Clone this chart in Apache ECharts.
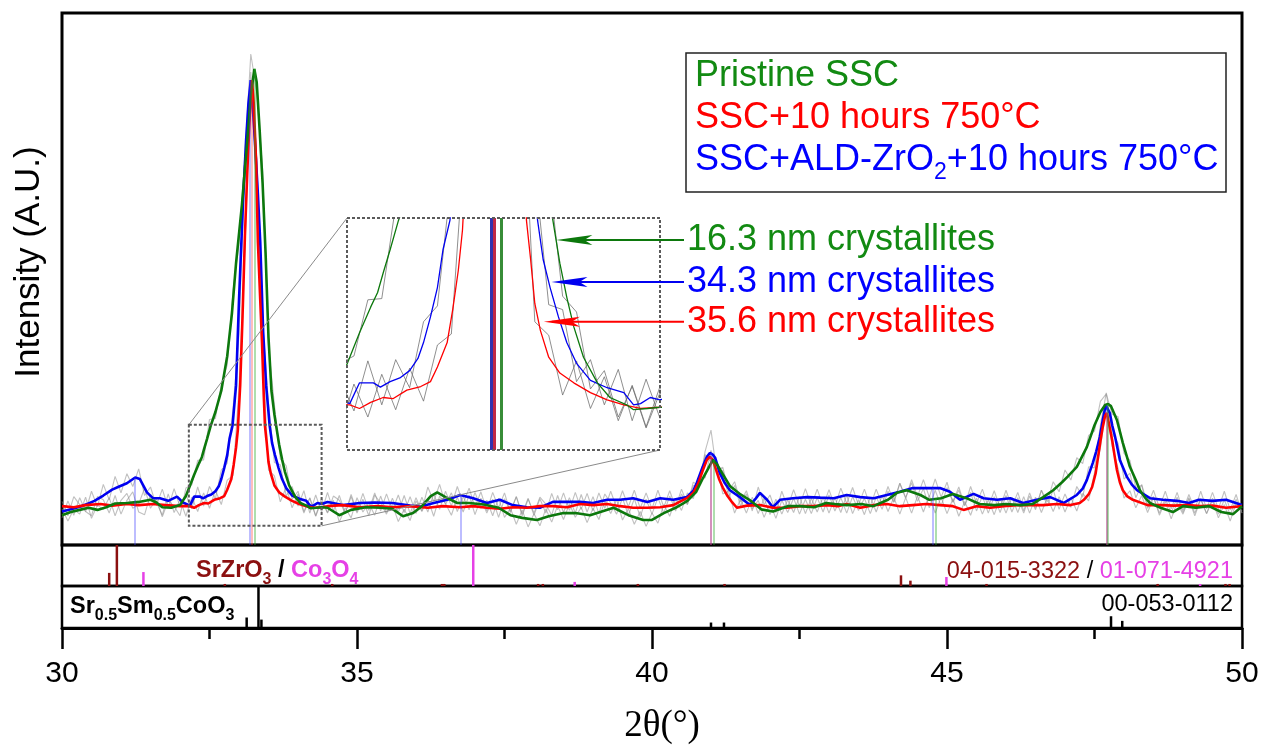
<!DOCTYPE html>
<html>
<head>
<meta charset="utf-8">
<title>XRD patterns of SSC cathodes</title>
<script src="https://cdn.jsdelivr.net/npm/echarts/dist/echarts.min.js"></script>
<style>
  html, body { margin: 0; padding: 0; background: #fff; }
  #chart { width: 1263px; height: 746px; }
</style>
</head>
<body>
<div id="chart"></div>
<script>
// ---------- data ----------
const seriesNames = ['Pristine SSC', 'SSC+10 hours 750°C', 'SSC+ALD-ZrO2+10 hours 750°C'];
const crystalliteLabels = ['16.3 nm crystallites', '34.3 nm crystallites', '35.6 nm crystallites'];
const xTickValues = [30, 35, 40, 45, 50];

// smoothed patterns, [2θ, intensity]
const pristineSmooth = [[30.0,5.6],[30.15,6.2],[30.3,6.6],[30.45,7.0],[30.6,6.6],[30.75,7.1],[30.9,7.8],[31.1,7.9],[31.3,8.1],[31.5,8.5],[31.6,8.0],[31.7,7.1],[31.85,7.0],[32.0,7.5],[32.1,9.2],[32.17,11.2],[32.24,13.2],[32.32,15.3],[32.37,16.5],[32.41,18.1],[32.46,20.0],[32.52,22.4],[32.6,25.0],[32.7,29.0],[32.8,35.5],[32.88,43.5],[32.95,53.0],[33.05,64.0],[33.14,76.0],[33.2,84.5],[33.26,89.5],[33.3,87.0],[33.35,78.0],[33.4,68.0],[33.45,55.0],[33.5,39.0],[33.55,29.0],[33.6,24.5],[33.63,22.4],[33.68,18.9],[33.73,16.1],[33.78,13.7],[33.85,11.2],[33.95,9.1],[34.04,7.9],[34.16,7.3],[34.21,6.9],[34.31,7.0],[34.4,7.1],[34.5,7.0],[34.7,5.6],[34.9,6.6],[35.15,7.1],[35.4,7.0],[35.6,6.8],[35.78,5.4],[35.95,6.0],[36.1,7.3],[36.25,9.2],[36.36,9.9],[36.5,9.0],[36.7,7.9],[36.9,7.9],[37.15,7.6],[37.4,7.0],[37.6,5.6],[37.8,5.1],[38.05,4.7],[38.25,5.4],[38.5,6.0],[38.7,6.0],[38.95,5.6],[39.15,6.3],[39.35,7.0],[39.6,5.6],[39.85,4.7],[40.0,4.7],[40.2,6.0],[40.4,7.0],[40.6,8.3],[40.75,10.0],[40.85,12.3],[40.95,14.3],[41.03,16.0],[41.1,15.2],[41.2,13.3],[41.32,11.1],[41.5,9.5],[41.65,8.5],[41.85,6.7],[42.05,6.3],[42.3,7.3],[42.5,7.3],[42.75,7.1],[42.95,7.9],[43.1,7.7],[43.3,7.5],[43.55,7.7],[43.75,7.3],[44.0,8.5],[44.15,9.8],[44.32,10.3],[44.55,9.4],[44.7,8.5],[44.9,8.8],[45.1,9.6],[45.33,8.8],[45.55,7.7],[45.8,7.5],[46.0,7.7],[46.25,7.5],[46.45,7.7],[46.63,9.0],[46.8,10.3],[46.95,11.8],[47.05,12.9],[47.2,14.7],[47.37,18.4],[47.5,22.5],[47.6,25.0],[47.68,26.3],[47.73,26.5],[47.78,26.1],[47.88,23.5],[47.98,19.2],[48.1,14.7],[48.2,12.2],[48.27,10.3],[48.35,9.0],[48.44,7.9],[48.62,7.0],[48.83,6.2],[49.0,7.3],[49.22,7.0],[49.44,7.3],[49.65,6.2],[49.85,5.8],[50.0,7.3]];

const annealedSmooth = [[30.0,7.3],[30.2,7.1],[30.4,7.5],[30.65,7.7],[30.85,7.4],[31.1,7.7],[31.3,7.5],[31.55,7.7],[31.75,7.5],[32.0,7.3],[32.17,7.3],[32.24,7.0],[32.32,7.5],[32.41,7.9],[32.48,7.8],[32.58,8.5],[32.68,8.8],[32.75,9.2],[32.8,10.4],[32.87,12.4],[32.91,15.1],[32.95,18.3],[32.98,21.6],[33.02,30.0],[33.06,43.0],[33.1,58.0],[33.14,70.0],[33.18,80.0],[33.22,87.4],[33.25,83.0],[33.29,72.0],[33.32,57.0],[33.36,46.0],[33.39,38.0],[33.42,28.0],[33.44,22.4],[33.47,19.2],[33.5,15.6],[33.54,13.4],[33.6,11.2],[33.68,9.9],[33.78,9.1],[33.9,8.3],[34.02,7.7],[34.14,7.3],[34.26,7.0],[34.4,7.1],[34.5,7.3],[34.75,7.5],[35.05,7.1],[35.35,7.3],[35.6,7.1],[35.9,7.3],[36.2,7.0],[36.45,7.3],[36.75,7.1],[36.97,7.3],[37.2,7.0],[37.42,6.8],[37.64,7.1],[37.88,7.0],[38.1,7.3],[38.32,7.3],[38.56,7.1],[38.78,7.7],[39.0,7.5],[39.24,7.7],[39.46,7.3],[39.68,7.0],[39.92,7.0],[40.14,7.1],[40.36,7.5],[40.59,8.8],[40.7,9.8],[40.78,11.5],[40.86,14.0],[40.93,16.0],[40.98,16.6],[41.03,16.0],[41.08,14.3],[41.14,12.3],[41.2,10.8],[41.28,9.2],[41.36,8.0],[41.44,7.0],[41.61,7.4],[41.83,7.5],[42.05,7.0],[42.29,7.0],[42.51,7.3],[42.73,7.3],[42.97,7.5],[43.15,7.3],[43.3,7.7],[43.53,7.0],[43.76,7.5],[43.98,7.7],[44.2,7.3],[44.42,7.5],[44.65,7.7],[44.88,7.5],[45.1,7.3],[45.28,6.6],[45.5,7.3],[45.73,7.0],[45.96,7.3],[46.18,7.5],[46.41,7.5],[46.63,7.5],[46.86,7.7],[47.09,7.5],[47.25,7.9],[47.32,8.5],[47.4,9.5],[47.46,10.9],[47.52,13.5],[47.56,16.5],[47.6,19.5],[47.64,22.2],[47.68,24.3],[47.71,24.8],[47.75,22.5],[47.8,19.7],[47.84,16.8],[47.88,14.1],[47.93,11.8],[47.98,10.3],[48.05,9.2],[48.15,8.5],[48.4,7.5],[48.62,7.5],[48.85,7.4],[49.07,7.5],[49.3,7.3],[49.5,7.4],[49.73,7.0],[50.0,7.3]];

const aldSmooth = [[30.0,6.3],[30.15,6.7],[30.3,7.2],[30.45,7.8],[30.55,8.3],[30.7,9.3],[30.85,10.4],[30.95,10.9],[31.1,11.6],[31.24,12.7],[31.32,12.4],[31.44,9.9],[31.54,8.8],[31.66,8.8],[31.8,8.3],[31.95,9.1],[32.05,8.0],[32.17,7.4],[32.24,9.1],[32.34,9.1],[32.39,8.75],[32.46,9.2],[32.53,9.5],[32.6,10.1],[32.66,11.1],[32.7,12.4],[32.75,14.5],[32.8,16.9],[32.84,20.0],[32.89,22.4],[32.95,30.0],[33.0,46.0],[33.07,65.0],[33.12,76.0],[33.16,83.0],[33.2,87.4],[33.23,83.0],[33.27,76.0],[33.32,66.0],[33.36,57.0],[33.41,40.0],[33.46,30.0],[33.52,22.4],[33.56,19.2],[33.61,16.9],[33.67,14.5],[33.73,12.4],[33.8,10.7],[33.9,9.3],[34.02,8.7],[34.14,8.3],[34.21,7.3],[34.26,7.4],[34.33,7.9],[34.4,7.7],[34.5,8.1],[34.76,7.5],[35.05,7.9],[35.3,8.0],[35.6,7.9],[35.9,7.4],[36.07,7.2],[36.3,7.9],[36.53,8.5],[36.75,9.4],[36.97,8.8],[37.2,7.9],[37.42,8.5],[37.64,7.5],[37.88,7.1],[38.1,7.0],[38.32,8.1],[38.56,8.1],[38.78,8.1],[39.0,7.9],[39.24,8.5],[39.46,8.5],[39.68,8.8],[39.92,8.1],[40.14,8.8],[40.36,8.5],[40.59,9.0],[40.7,10.2],[40.76,11.7],[40.86,14.7],[40.93,16.6],[40.98,17.3],[41.03,17.0],[41.07,16.4],[41.15,13.5],[41.23,11.7],[41.32,10.3],[41.49,9.0],[41.66,7.5],[41.75,8.6],[41.83,9.8],[41.95,8.5],[42.05,7.1],[42.17,8.5],[42.39,8.8],[42.63,9.0],[42.85,8.9],[43.08,8.8],[43.3,9.4],[43.53,9.0],[43.76,8.8],[43.98,9.4],[44.2,10.0],[44.42,10.7],[44.65,10.7],[44.88,10.7],[45.05,10.0],[45.22,8.5],[45.45,9.6],[45.62,8.8],[45.85,8.5],[46.07,8.8],[46.29,7.9],[46.52,8.5],[46.75,9.0],[46.98,7.9],[47.2,9.4],[47.3,10.6],[47.37,12.2],[47.47,15.4],[47.53,17.6],[47.59,20.3],[47.64,23.5],[47.69,26.3],[47.72,26.0],[47.76,24.8],[47.8,22.5],[47.85,20.3],[47.93,16.0],[48.05,12.8],[48.13,11.4],[48.22,10.3],[48.44,8.8],[48.66,8.5],[48.9,8.3],[49.1,7.9],[49.27,8.5],[49.5,8.3],[49.73,8.5],[50.0,7.5]];

// raw scans, one value per 0.1° step from 30.0° to 50.0°
const RAW_START = 30.0;
const RAW_STEP = 0.1;
const pristineRaw = [6.8,4.5,6.7,5.8,9.0,5.0,7.5,6.7,8.9,5.5, 8.4,9.7,6.9,7.7,10.7,6.9,8.7,5.3,8.3,7.3, 5.5,10.7,11.3,15.9,16.0,23.6,23.8,30.2,33.8,47.9, 56.6,73.5,92.3,85.2,70.6,37.4,26.4,16.2,14.9,8.6, 10.1,6.3,8.8,5.4,8.3,6.1,8.4,4.3,7.0,5.1, 8.9,6.2,7.9,5.6,9.2,6.1,7.6,4.4,6.7,4.6, 8.3,6.4,10.9,8.2,11.4,7.6,9.8,6.3,9.1,6.6, 9.9,6.9,8.4,5.5,8.8,5.2,6.9,3.9,6.6,3.4, 5.9,3.6,6.8,4.3,7.4,4.8,7.7,5.2,7.1,4.2, 6.9,4.8,8.3,5.9,8.6,4.7,6.8,3.9,6.3,3.5, 6.0,4.1,7.6,5.4,8.7,6.5,9.8,8.7,12.8,12.6, 17.8,14.0,14.6,10.2,11.9,8.1,10.2,6.8,8.4,5.2, 7.9,5.0,8.4,6.1,8.8,5.8,8.6,5.9,8.9,6.2, 9.4,6.4,8.9,6.0,9.1,6.5,8.8,5.9,9.0,6.7, 10.1,8.0,11.6,8.9,11.7,8.2,10.6,7.0,10.3,7.3, 10.8,8.1,10.9,7.4,9.9,6.4,9.2,6.0,9.1,6.1, 9.3,6.2,8.9,6.0,9.2,6.6,10.3,8.1,11.9,10.0, 14.1,12.2,16.4,15.3,20.6,21.4,27.0,28.4,24.6,24.1, 17.2,15.9,10.8,11.2,6.9,9.1,5.6,8.2,4.9,8.0, 5.8,8.7,5.5,8.6,5.9,8.4,5.1,7.6,4.5,7.9, 6.4];
const annealedRaw = [8.2,5.5,9.1,7.6,6.3,5.5,9.1,8.5,6.0,9.3, 5.8,8.4,10.0,6.2,5.7,9.5,8.1,5.6,9.6,6.1, 8.5,5.4,9.0,6.3,9.8,6.9,10.3,7.6,12.2,13.1, 29.5,55.8,88.9,65.2,36.7,14.1,13.0,8.1,10.9,7.0, 9.6,6.0,8.9,5.5,8.8,6.0,9.2,8.4,5.9,9.1, 6.0,8.6,5.5,9.4,7.9,5.8,8.8,6.1,9.3,5.9, 8.9,6.3,8.7,5.4,9.2,7.8,5.6,9.0,6.2,9.4, 5.7,8.8,6.0,8.6,5.2,8.7,6.3,9.1,5.5,8.6, 6.0,9.0,7.7,5.6,9.3,6.1,8.9,6.0,9.5,6.2, 9.1,5.9,9.6,7.9,5.8,8.8,5.6,8.7,5.3,8.6, 5.8,8.9,6.0,9.2,6.4,9.6,7.6,11.2,10.9,17.0, 15.6,14.9,9.6,10.1,6.0,8.6,6.0,9.0,5.9,8.8, 5.7,8.6,5.8,8.5,6.1,9.1,5.9,8.8,6.2,9.0, 6.0,8.9,6.1,9.4,5.9,8.5,5.7,9.0,6.2,9.3, 6.3,9.0,5.8,8.9,6.0,9.2,6.2,9.3,6.0,9.0, 5.9,8.7,5.4,8.2,5.6,8.8,5.8,8.5,5.7,8.8, 6.0,9.0,6.1,9.1,6.0,9.0,6.1,8.9,6.3,9.1, 6.2,8.9,6.4,9.7,8.3,13.6,18.2,26.3,18.5,14.4, 8.8,10.2,7.0,9.3,6.1,8.9,6.0,8.8,6.0,9.0, 6.1,8.9,6.0,8.7,5.9,8.8,5.8,8.5,5.7,8.6, 6.0];
const aldRaw = [5.1,8.3,5.6,8.9,6.3,10.1,7.2,11.4,8.5,12.9, 9.8,13.4,11.0,14.3,9.3,10.9,7.4,10.5,7.0,10.6, 7.2,9.4,6.8,10.9,7.3,11.0,8.7,14.1,15.4,25.8, 39.6,72.4,85.1,72.6,41.8,26.7,15.5,15.1,9.2,11.0, 7.3,10.2,6.0,9.4,6.2,9.9,6.4,9.3,6.0,9.5, 6.3,9.7,6.5,9.8,6.4,9.6,6.5,9.4,6.1,9.1, 5.9,9.0,6.2,9.6,6.7,10.1,7.3,11.0,7.8,10.7, 7.1,10.0,6.4,9.9,7.0,9.8,6.1,9.1,5.8,8.8, 5.6,8.7,6.0,9.7,6.6,9.8,6.5,9.9,6.7,9.7, 6.4,9.8,6.9,10.1,7.0,10.2,7.2,10.3,6.9,9.8, 6.8,10.3,7.1,10.2,7.0,10.5,7.6,11.8,11.2,17.6, 21.6,13.4,14.0,9.0,11.2,7.3,9.6,6.4,10.9,7.6, 9.4,6.1,10.1,7.1,10.4,7.3,10.6,7.4,10.5,7.3, 10.4,7.2,10.7,7.8,10.8,7.5,10.5,7.3,10.5,7.6, 11.0,8.1,11.6,8.8,12.3,9.1,12.3,9.0,12.4,9.0, 11.8,8.0,10.3,7.4,11.0,7.8,10.5,7.1,10.2,7.0, 10.3,7.1,9.9,6.4,9.8,6.9,10.3,7.3,10.4,6.7, 9.6,7.1,11.0,9.0,14.7,14.5,22.5,28.6,20.9,19.1, 12.4,13.5,8.9,11.4,7.5,10.3,7.0,10.1,6.8,9.9, 6.5,9.5,6.7,10.1,6.8,9.9,6.8,10.1,6.6,9.5, 6.0];

// fitted peak positions [2θ, peak intensity]
const pristinePeaks = [[33.26,89.5],[41.05,16.0],[44.81,8.7],[47.73,26.5]];
const annealedPeaks = [[33.21,87.4],[40.99,16.6],[47.71,24.8]];
const aldPeaks = [[31.24,12.7],[33.19,87.4],[36.76,9.4],[40.99,17.3],[44.76,10.7],[47.70,26.3]];

// reference patterns, [2θ, relative intensity]
const srZrO3Sticks = [[30.80,0.32],[30.93,1.0],[32.76,0.05],[34.58,0.05],[36.44,0.05],[36.48,0.05],[38.07,0.05],[38.15,0.05],[39.76,0.05],[41.23,0.05],[44.22,0.26],[44.38,0.13],[45.67,0.05],[48.57,0.05],[49.72,0.05],[49.79,0.05]];
const co3o4Sticks = [[31.38,0.34],[36.97,1.0],[38.69,0.1],[44.99,0.22],[49.29,0.05]];
const sscSticks = [[33.13,0.25],[33.33,1.0],[33.38,0.2],[41.0,0.13],[41.22,0.13],[47.78,0.28],[47.97,0.17]];

// magnified window [2θ range], [intensity range]
const zoomX = [32.15, 34.4];
const zoomY = [3.6, 22.6];
// points on each smoothed curve picked out by the crystallite arrows
const arrowTips = [[33.655,20.8],[33.62,17.35],[33.565,14.1]];

// ---------- styling ----------
const FONT = 'Liberation Sans, Arial, Helvetica, sans-serif';
const GREEN = '#0c780c', GREEN_TXT = '#128a12';
const RED = '#ff0000', BLUE = '#0000f0', BLUE_TXT = '#0000ff';
const DARKRED = '#8b1010', MAGENTA = '#e640e6';

const MAIN = { left: 62, top: 13, width: 1180, height: 532 };
const REF1 = { left: 62, top: 545, width: 1180, height: 41 };
const REF2 = { left: 62, top: 586, width: 1180, height: 42 };
const INSET = { left: 347, top: 218, width: 313, height: 232 };

function rawPairs(vals) {
  return vals.map((v, i) => [+(RAW_START + i * RAW_STEP).toFixed(2), v]);
}

const samples = [
  { name: seriesNames[2], smooth: aldSmooth, raw: aldRaw, peaks: aldPeaks, color: BLUE,
    drop: 'rgba(60,60,255,0.45)', dropInset: 'rgba(40,40,170,0.95)' },
  { name: seriesNames[1], smooth: annealedSmooth, raw: annealedRaw, peaks: annealedPeaks, color: RED,
    drop: 'rgba(255,60,60,0.45)', dropInset: 'rgba(190,30,60,0.95)' },
  { name: seriesNames[0], smooth: pristineSmooth, raw: pristineRaw, peaks: pristinePeaks, color: GREEN,
    drop: 'rgba(40,170,40,0.5)', dropInset: 'rgba(45,135,45,0.95)' }
];

const series = [];
// raw scans behind everything
samples.forEach(s => {
  series.push({
    type: 'line', name: s.name + ' raw', xAxisIndex: 0, yAxisIndex: 0,
    data: rawPairs(s.raw), symbol: 'none', silent: true, z: 1,
    lineStyle: { color: '#8c8c8c', width: 1.1, opacity: 0.55 }
  });
});
// smoothed curves with peak drop lines
samples.forEach(s => {
  series.push({
    type: 'line', name: s.name, xAxisIndex: 0, yAxisIndex: 0,
    data: s.smooth, symbol: 'none', silent: true, z: 3,
    lineStyle: { color: s.color, width: 2.6 },
    markLine: {
      silent: true, symbol: ['none', 'none'], label: { show: false }, animation: false,
      lineStyle: { color: s.drop, width: 1.5, type: 'solid' },
      data: s.peaks.map(p => [{ coord: [p[0], 0] }, { coord: [p[0], p[1]] }])
    }
  });
});
// magnified copy of the main peak's foot
samples.forEach(s => {
  series.push({
    type: 'line', name: s.name + ' raw (zoom)', xAxisIndex: 3, yAxisIndex: 3,
    data: rawPairs(s.raw), symbol: 'none', silent: true, z: 4, clip: true,
    lineStyle: { color: '#6a6a6a', width: 1, opacity: 0.75 }
  });
});
samples.forEach(s => {
  series.push({
    type: 'line', name: s.name + ' (zoom)', xAxisIndex: 3, yAxisIndex: 3,
    data: s.smooth, symbol: 'none', silent: true, z: 5, clip: true,
    lineStyle: { color: s.color, width: 1.3 },
    markLine: {
      silent: true, symbol: ['none', 'none'], label: { show: false }, animation: false,
      lineStyle: { color: s.dropInset, width: 3, type: 'solid' },
      data: s.peaks.filter(p => p[0] > zoomX[0] && p[0] < zoomX[1])
        .map(p => [{ coord: [p[0], zoomY[0]] }, { coord: [p[0], Math.min(p[1], zoomY[1])] }])
    }
  });
});
// reference stick patterns
series.push({
  type: 'bar', name: 'SrZrO3', xAxisIndex: 1, yAxisIndex: 1, data: srZrO3Sticks,
  barWidth: 2.5, barGap: '-100%', silent: true, itemStyle: { color: DARKRED }
});
series.push({
  type: 'bar', name: 'Co3O4', xAxisIndex: 1, yAxisIndex: 1, data: co3o4Sticks,
  barWidth: 2.5, barGap: '-100%', silent: true, itemStyle: { color: MAGENTA }
});
series.push({
  type: 'bar', name: 'Sr0.5Sm0.5CoO3', xAxisIndex: 2, yAxisIndex: 2, data: sscSticks,
  barWidth: 2.5, silent: true, itemStyle: { color: '#000' }
});

const hiddenX = (gi, range) => ({ gridIndex: gi, type: 'value', min: range[0], max: range[1], show: false });
const hiddenY = (gi, range) => ({ gridIndex: gi, type: 'value', min: range[0], max: range[1], show: false });

const option = {
  animation: false,
  backgroundColor: '#fff',
  textStyle: { fontFamily: FONT },
  grid: [
    Object.assign({ show: true, borderColor: '#000', borderWidth: 3 }, MAIN),
    Object.assign({ show: true, borderColor: '#000', borderWidth: 2.5 }, REF1),
    Object.assign({ show: true, borderColor: '#000', borderWidth: 2.5 }, REF2),
    Object.assign({ show: false }, INSET)
  ],
  xAxis: [
    hiddenX(0, [30, 50]),
    hiddenX(1, [30, 50]),
    {
      gridIndex: 2, type: 'value', min: 30, max: 50, interval: 5,
      axisLine: { lineStyle: { color: '#000', width: 3 } },
      axisTick: { length: 21, lineStyle: { color: '#000', width: 2.5 } },
      minorTick: { show: true, splitNumber: 2, length: 11, lineStyle: { color: '#000', width: 2.5 } },
      splitLine: { show: false },
      axisLabel: {
        fontSize: 30, color: '#000', fontFamily: FONT, margin: 31,
        formatter: v => (xTickValues.indexOf(v) >= 0 ? String(v) : '')
      },
      name: '2θ(°)', nameLocation: 'middle', nameGap: 80,
      nameTextStyle: { fontSize: 37, color: '#000', padding: [0, 0, 0, 20],
        fontFamily: 'Liberation Serif, Times New Roman, serif' }
    },
    hiddenX(3, zoomX)
  ],
  yAxis: [
    hiddenY(0, [0, 100]),
    hiddenY(1, [0, 1]),
    hiddenY(2, [0, 1]),
    hiddenY(3, zoomY)
  ],
  series: series
};

const chart = echarts.init(document.getElementById('chart'));
chart.setOption(option);

// ---------- annotations ----------
function txt(x, y, text, opts) {
  const st = Object.assign({
    text: text, x: x, y: y, fontFamily: FONT, fontSize: 36, fill: '#000',
    align: 'left', textAlign: 'left', verticalAlign: 'middle', textVerticalAlign: 'middle'
  }, opts || {});
  return { type: 'text', z: 60, silent: true, style: st };
}

function buildGraphic() {
  const px = (gi, pt) => chart.convertToPixel({ gridIndex: gi }, pt);
  const g = [];

  // y-axis title
  g.push({ type: 'text', z: 60, silent: true, x: 29, y: 262, rotation: Math.PI / 2,
    style: { text: 'Intensity (A.U.)', fontFamily: FONT, fontSize: 35, fill: '#000',
      align: 'center', textAlign: 'center', verticalAlign: 'middle', textVerticalAlign: 'middle' } });

  // source window on the main plot and the magnified frame
  const sTL = px(0, [zoomX[0], zoomY[1]]);
  const sBR = px(0, [zoomX[1], zoomY[0]]);
  const iTL = px(3, [zoomX[0], zoomY[1]]);
  const iBR = px(3, [zoomX[1], zoomY[0]]);
  const dash = { fill: 'none', stroke: '#5a5a5a', lineWidth: 2, lineDash: [3, 2] };
  g.push({ type: 'rect', z: 40, silent: true,
    shape: { x: sTL[0], y: sTL[1], width: sBR[0] - sTL[0], height: sBR[1] - sTL[1] }, style: dash });
  g.push({ type: 'rect', z: 40, silent: true,
    shape: { x: iTL[0], y: iTL[1], width: iBR[0] - iTL[0], height: iBR[1] - iTL[1] }, style: dash });
  g.push({ type: 'line', z: 39, silent: true,
    shape: { x1: iTL[0], y1: iTL[1], x2: sTL[0], y2: sTL[1] }, style: { stroke: '#8a8a8a', lineWidth: 1 } });
  g.push({ type: 'line', z: 39, silent: true,
    shape: { x1: iBR[0], y1: iBR[1], x2: sBR[0], y2: sBR[1] }, style: { stroke: '#8a8a8a', lineWidth: 1 } });

  // crystallite arrows and labels
  const arrowColors = [GREEN, BLUE, RED];
  const labelColors = [GREEN_TXT, BLUE_TXT, RED];
  const tailX = 684;
  arrowTips.forEach((tp, k) => {
    const [x, y] = px(3, tp);
    const c = arrowColors[k];
    g.push({ type: 'line', z: 45, silent: true,
      shape: { x1: x + 8, y1: y, x2: tailX, y2: y }, style: { stroke: c, lineWidth: 2 } });
    g.push({ type: 'polygon', z: 46, silent: true,
      shape: { points: [[x, y], [x + 36, y - 5], [x + 28, y], [x + 36, y + 5]] }, style: { fill: c } });
    g.push(txt(687, y, crystalliteLabels[k], { fill: labelColors[k] }));
  });

  // sample key
  g.push({ type: 'rect', z: 50, silent: true,
    shape: { x: 686, y: 53, width: 540, height: 139 }, style: { fill: '#fff', stroke: '#222', lineWidth: 1.5 } });
  g.push(txt(695, 76, seriesNames[0], { fill: GREEN_TXT }));
  g.push(txt(695, 118, seriesNames[1], { fill: RED }));
  g.push(txt(695, 160, '{m|SSC+ALD-ZrO}{s|2}{m|+10 hours 750°C}', {
    fill: BLUE_TXT,
    rich: {
      m: { fontSize: 36, fontFamily: FONT, fill: BLUE_TXT, lineHeight: 48 },
      s: { fontSize: 23, fontFamily: FONT, fill: BLUE_TXT, lineHeight: 23, verticalAlign: 'bottom' }
    }
  }));

  // reference pattern captions
  const bold = (col, size, lh) => ({ fontSize: size, fontWeight: 'bold', fontFamily: FONT, fill: col, lineHeight: lh });
  const sub = (col) => ({ fontSize: 16, fontWeight: 'bold', fontFamily: FONT, fill: col, lineHeight: 16, verticalAlign: 'bottom' });
  g.push(txt(196, 571, '{r|SrZrO}{rs|3}{k| / }{m|Co}{ms|3}{m|O}{ms|4}', {
    fontSize: 23.5,
    rich: { r: bold(DARKRED, 23.5, 34), rs: sub(DARKRED), k: bold('#000', 23.5, 34), m: bold(MAGENTA, 23.5, 34), ms: sub(MAGENTA) }
  }));
  g.push(txt(1233, 572, '{r|04-015-3322}{k| / }{m|01-071-4921}', {
    fontSize: 23.5, align: 'right', textAlign: 'right',
    rich: {
      r: { fontSize: 23.5, fontFamily: FONT, fill: DARKRED },
      k: { fontSize: 23.5, fontFamily: FONT, fill: '#000' },
      m: { fontSize: 23.5, fontFamily: FONT, fill: MAGENTA }
    }
  }));
  g.push(txt(70, 607, '{b|Sr}{s|0.5}{b|Sm}{s|0.5}{b|CoO}{s|3}', {
    fontSize: 23.5,
    rich: { b: bold('#000', 23.5, 34), s: sub('#000') }
  }));
  g.push(txt(1233, 605, '00-053-0112', { fontSize: 23.5, align: 'right', textAlign: 'right' }));

  return g;
}

chart.setOption({ graphic: buildGraphic() });
</script>
</body>
</html>
